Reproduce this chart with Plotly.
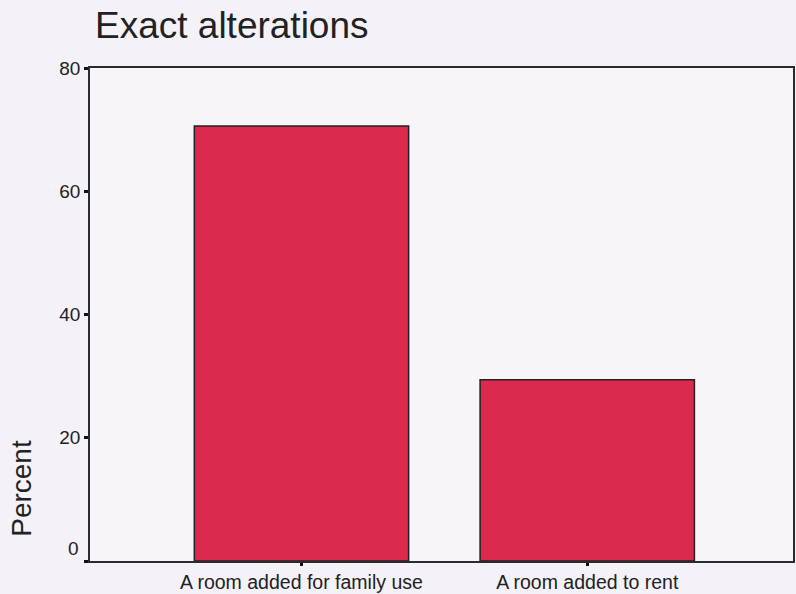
import plotly.graph_objects as go

# Survey result: type of alteration made to the dwelling
categories = ["A room added for family use", "A room added to rent"]
percent = [70.6, 29.4]
y_ticks = [0, 20, 40, 60, 80]

bg = "#f4f1f8"
ink = "#2b2b2b"

ML, MR = 90, 3
plot_w = 796 - ML - MR

fig = go.Figure()
fig.add_trace(go.Bar(
    x=categories,
    y=percent,
    width=0.75,
    marker=dict(color="#dc2a4f", line=dict(color="#222222", width=1.5)),
    hoverinfo="x+y",
))

fig.update_layout(
    width=796,
    height=594,
    margin=dict(l=ML, r=MR, t=68, b=33, autoexpand=False),
    paper_bgcolor=bg,
    plot_bgcolor="#f7f5fa",
    showlegend=False,
    font=dict(family="Liberation Sans, Arial, sans-serif", color=ink),
    title=dict(
        text="Exact alterations",
        x=95 / 796, xanchor="left",
        y=1 - 25 / 594, yanchor="middle",
        font=dict(size=37, color="#222222"),
    ),
)

fig.update_xaxes(
    range=[-0.74, 1.72],
    automargin=False,
    showline=True, linecolor=ink, linewidth=1.5, mirror=True,
    ticks="outside", ticklen=3, tickwidth=3, tickcolor="#111111",
    tickfont=dict(size=19.5, color="#222222"),
    showgrid=False,
)

fig.update_yaxes(
    range=[0, 80],
    automargin=False,
    tickvals=y_ticks,
    ticktext=["" if v == 0 else str(v) for v in y_ticks],
    showline=True, linecolor=ink, linewidth=1.5, mirror=True,
    ticks="outside", ticklen=4, tickwidth=3, tickcolor="#111111",
    tickfont=dict(size=19, color="#222222"),
    showgrid=False, zeroline=False,
)

# The zero label sits a little above its tick
fig.add_annotation(
    x=0, xref="paper", xanchor="right", xshift=-9,
    y=y_ticks[0], yref="y", yshift=13,
    text=str(y_ticks[0]), showarrow=False,
    font=dict(size=19, color="#222222"),
)

# Axis title placed low along the value axis
fig.add_annotation(
    x=(22 - ML) / plot_w, xref="paper", xanchor="center",
    y=1 - 507 / 594, yref="paper", yanchor="middle",
    text="Percent", textangle=-90, showarrow=False,
    font=dict(size=28, color="#222222"),
)

fig.write_html("out.html")
